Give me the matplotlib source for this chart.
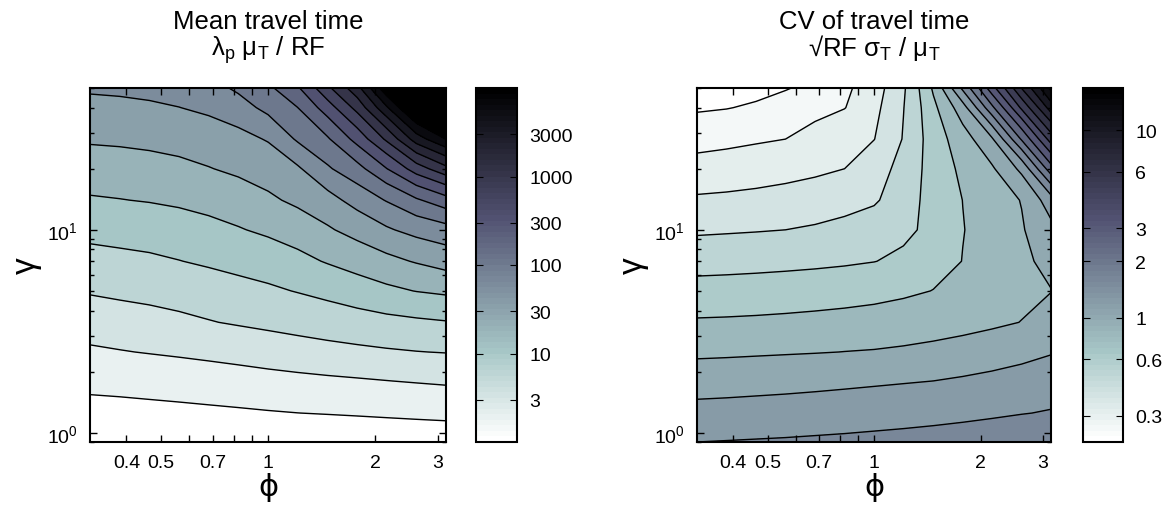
import numpy as np
import matplotlib.pyplot as plt
from matplotlib.colors import ListedColormap, Normalize
from matplotlib.cm import ScalarMappable

plt.rcParams['font.family'] = ['Liberation Sans', 'DejaVu Sans']
plt.rcParams['mathtext.fontset'] = 'custom'
plt.rcParams['mathtext.rm'] = 'Liberation Sans'
plt.rcParams['mathtext.default'] = 'regular'

# grid nodes
phi = np.array([0.316, 0.383, 0.464, 0.562, 0.681, 0.825, 1.0,
                1.21, 1.47, 1.78, 2.15, 2.61, 3.16])
gamma = np.array([0.9, 1.25, 1.8, 2.5, 3.5, 5, 7, 10, 14, 20, 28, 40, 50])

# log10 of mean travel time, rows = gamma, cols = phi
mean_log = np.array([
    [0.022, 0.028, 0.035, 0.042, 0.050, 0.057, 0.064, 0.070, 0.076, 0.084, 0.093, 0.102, 0.110],
    [0.166, 0.173, 0.185, 0.197, 0.210, 0.223, 0.237, 0.249, 0.260, 0.272, 0.285, 0.298, 0.310],
    [0.325, 0.340, 0.356, 0.372, 0.390, 0.408, 0.428, 0.446, 0.464, 0.480, 0.497, 0.516, 0.535],
    [0.469, 0.490, 0.511, 0.533, 0.558, 0.587, 0.621, 0.654, 0.683, 0.706, 0.727, 0.745, 0.759],
    [0.616, 0.644, 0.670, 0.702, 0.739, 0.774, 0.808, 0.841, 0.874, 0.907, 0.939, 0.965, 0.988],
    [0.773, 0.802, 0.827, 0.858, 0.892, 0.929, 0.965, 1.011, 1.068, 1.135, 1.203, 1.257, 1.297],
    [0.920, 0.942, 0.963, 0.995, 1.034, 1.077, 1.123, 1.185, 1.270, 1.357, 1.438, 1.520, 1.606],
    [1.076, 1.096, 1.116, 1.147, 1.186, 1.235, 1.295, 1.375, 1.474, 1.589, 1.721, 1.835, 1.911],
    [1.229, 1.244, 1.263, 1.291, 1.333, 1.389, 1.461, 1.550, 1.666, 1.847, 2.015, 2.218, 2.407],
    [1.384, 1.397, 1.417, 1.446, 1.491, 1.547, 1.616, 1.718, 1.971, 2.169, 2.492, 2.880, 3.182],
    [1.530, 1.542, 1.562, 1.592, 1.637, 1.682, 1.768, 2.036, 2.223, 2.596, 3.044, 3.630, 4.006],
    [1.685, 1.697, 1.717, 1.747, 1.796, 1.889, 2.080, 2.247, 2.637, 3.089, 3.713, 4.435, 4.950],
    [1.782, 1.794, 1.814, 1.844, 1.903, 2.050, 2.200, 2.470, 2.950, 3.420, 4.200, 4.900, 5.500],
])

# log10 of CV of travel time, rows = gamma, cols = phi
cv_log = np.array([
    [0.200, 0.203, 0.206, 0.209, 0.213, 0.217, 0.222, 0.227, 0.233, 0.240, 0.248, 0.258, 0.270],
    [0.130, 0.133, 0.137, 0.141, 0.146, 0.151, 0.157, 0.163, 0.170, 0.178, 0.187, 0.197, 0.206],
    [0.052, 0.056, 0.061, 0.066, 0.072, 0.079, 0.086, 0.093, 0.100, 0.110, 0.121, 0.133, 0.146],
    [-0.019, -0.016, -0.012, -0.008, -0.004, 0.001, 0.005, 0.012, 0.022, 0.035, 0.052, 0.072, 0.094],
    [-0.091, -0.089, -0.086, -0.082, -0.077, -0.071, -0.064, -0.055, -0.045, -0.033, -0.018, 0.002, 0.047],
    [-0.167, -0.164, -0.160, -0.155, -0.149, -0.142, -0.132, -0.117, -0.098, -0.076, -0.052, -0.027, -0.003],
    [-0.239, -0.236, -0.232, -0.227, -0.221, -0.213, -0.202, -0.180, -0.140, -0.098, -0.062, -0.024, 0.036],
    [-0.316, -0.311, -0.306, -0.300, -0.290, -0.275, -0.255, -0.225, -0.168, -0.103, -0.058, -0.008, 0.073],
    [-0.388, -0.383, -0.376, -0.367, -0.354, -0.336, -0.312, -0.243, -0.162, -0.099, -0.047, 0.004, 0.157],
    [-0.465, -0.458, -0.448, -0.435, -0.420, -0.400, -0.343, -0.266, -0.156, -0.079, -0.013, 0.125, 0.461],
    [-0.537, -0.525, -0.512, -0.500, -0.468, -0.435, -0.402, -0.294, -0.147, -0.044, 0.086, 0.412, 0.747],
    [-0.613, -0.604, -0.585, -0.557, -0.530, -0.503, -0.426, -0.303, -0.123, 0.059, 0.376, 0.720, 1.051],
    [-0.661, -0.643, -0.636, -0.607, -0.569, -0.519, -0.444, -0.314, -0.085, 0.222, 0.560, 0.904, 1.225],
])

mean_levels = np.arange(0.25, 5.51, 0.25)
mean_clim = (0.0, 4.0)
mean_ticks = [3, 10, 30, 100, 300, 1000, 3000]

cv_levels = np.arange(-0.6, 1.21, 0.1)
cv_clim = (-0.664, 1.225)
cv_ticks = [0.3, 0.6, 1, 2, 3, 6, 10]

cmap = ListedColormap(plt.cm.bone_r(np.linspace(0, 1, 64)))

fig = plt.figure(figsize=(11.71, 5.06), dpi=100)
W, H = 1171, 506


def box(x0, x1, y0, y1):
    return [x0 / W, 1 - y1 / H, (x1 - x0) / W, (y1 - y0) / H]


def panel(ax, cax, z, levels, clim, ticks, title1, title2):
    norm = Normalize(*clim, clip=True)
    bounds = np.concatenate([[-50], levels, [50]])
    fills = [cmap(norm(clim[0]))] + [cmap(norm(l)) for l in levels]
    ax.contourf(phi, gamma, z, levels=bounds, colors=fills)
    ax.contour(phi, gamma, z, levels=levels, colors='k', linewidths=1.0,
               linestyles='solid')
    ax.set_xscale('log')
    ax.set_yscale('log')
    ax.set_xlim(0.316, 3.16)
    ax.set_ylim(0.9, 50)
    xt = [0.4, 0.5, 0.6, 0.7, 0.8, 0.9, 1, 2, 3]
    ax.set_xticks(xt)
    ax.set_xticklabels(['0.4', '0.5', '', '0.7', '', '', '1', '2', '3'])
    ax.xaxis.set_minor_locator(plt.NullLocator())
    ax.set_yticks([1, 10])
    ax.tick_params(which='both', direction='in', top=True, right=True,
                   labelsize=14, width=1)
    ax.tick_params(which='major', length=5, pad=9)
    ax.tick_params(which='minor', length=3)
    for s in ax.spines.values():
        s.set_linewidth(1.5)
    ax.set_xlabel('ϕ', fontsize=22, family=['DejaVu Sans'])
    ax.set_ylabel('γ', fontsize=24)
    ax.xaxis.set_label_coords(0.5, -0.085)
    ax.yaxis.set_label_coords(-0.135, 0.5)
    xc = (ax.get_position().x0 + ax.get_position().x1) / 2
    fig.text(xc, 1 - 29 / H, title1, ha='center', va='baseline', fontsize=18.5)
    fig.text(xc, 1 - 56 / H, title2, ha='center', va='baseline', fontsize=18.5)

    cb = fig.colorbar(ScalarMappable(norm, cmap), cax=cax)
    cb.set_ticks(np.log10(ticks))
    cb.set_ticklabels([f'{t:g}' for t in ticks])
    cb.outline.set_linewidth(1.5)
    cax.tick_params(direction='in', left=True, right=True, length=5,
                    labelsize=14, pad=9)


ax1 = fig.add_axes(box(90, 446, 89, 443))
cax1 = fig.add_axes(box(476, 517, 89, 443))
ax2 = fig.add_axes(box(697, 1051, 89, 443))
cax2 = fig.add_axes(box(1083, 1123, 89, 443))

panel(ax1, cax1, mean_log, mean_levels, mean_clim, mean_ticks,
      'Mean travel time', r'λ$_\mathregular{p}$ μ$_\mathregular{T}$ / RF')
panel(ax2, cax2, cv_log, cv_levels, cv_clim, cv_ticks,
      'CV of travel time', r'√RF σ$_\mathregular{T}$ / μ$_\mathregular{T}$')

fig.savefig('out.png', dpi=100)
